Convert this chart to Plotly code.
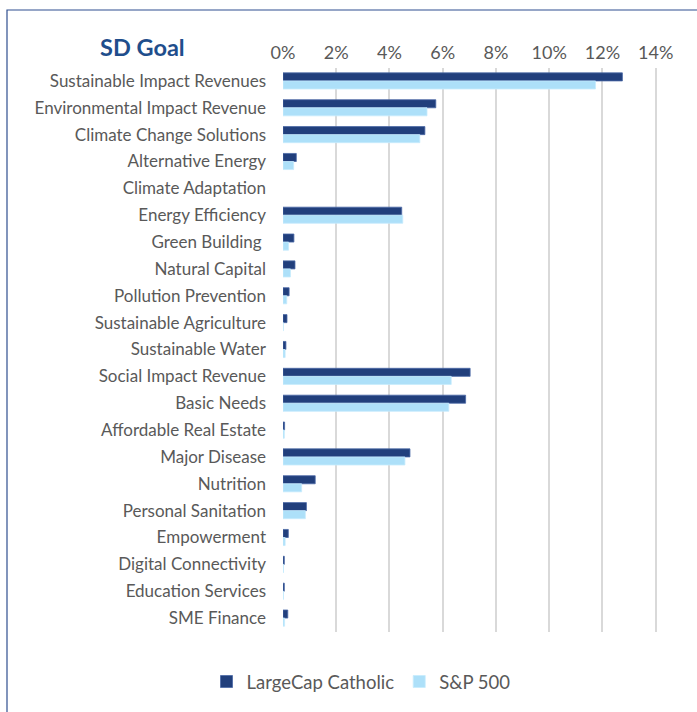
import plotly.graph_objects as go

categories = ["Sustainable Impact Revenues", "Environmental Impact Revenue", "Climate Change Solutions",
              "Alternative Energy", "Climate Adaptation", "Energy Efficiency", "Green Building ",
              "Natural Capital", "Pollution Prevention", "Sustainable Agriculture", "Sustainable Water",
              "Social Impact Revenue", "Basic Needs", "Affordable Real Estate", "Major Disease",
              "Nutrition", "Personal Sanitation", "Empowerment", "Digital Connectivity",
              "Education Services", "SME Finance"]
largecap = [12.75, 5.74, 5.33, 0.50, 0.0, 4.46, 0.41, 0.45, 0.23, 0.15, 0.11,
            7.03, 6.86, 0.06, 4.77, 1.21, 0.88, 0.20, 0.05, 0.05, 0.18]
sp500 = [11.74, 5.41, 5.14, 0.40, 0.0, 4.50, 0.21, 0.28, 0.14, 0.01, 0.08,
         6.32, 6.23, 0.05, 4.58, 0.70, 0.84, 0.08, 0.02, 0.02, 0.06]
tick_vals = [0, 2, 4, 6, 8, 10, 12, 14]
tick_text = ["0%", "2%", "4%", "6%", "8%", "10%", "12%", "14%"]

W, H = 697, 712
font_family = "Lato, 'Open Sans', sans-serif"


def outline_widths(values):
    return [0 if v == 0 else 0.8 for v in values]


fig = go.Figure()
fig.add_trace(go.Bar(y=categories, x=largecap, orientation="h", name="LargeCap Catholic",
                     marker=dict(color="#213F7C",
                                 line=dict(color="#4A68A6", width=outline_widths(largecap)))))
fig.add_trace(go.Bar(y=categories, x=sp500, orientation="h", name="S&P 500",
                     marker=dict(color="#ADE0F9",
                                 line=dict(color="#C6EBFC", width=outline_widths(sp500)))))

fig.update_layout(
    width=W, height=H,
    margin=dict(l=0, r=0, t=0, b=0, autoexpand=False),
    paper_bgcolor="white", plot_bgcolor="white",
    barmode="group", bargap=0.4, bargroupgap=0.0,
    font=dict(family=font_family, color="#595959"),
    xaxis=dict(domain=[283/W, 657/W], range=[0, 14.05], side="top", automargin=False,
               tickvals=tick_vals, ticktext=tick_text, tickfont=dict(size=18, color="#595959"),
               showgrid=True, gridcolor="#D9D9D9", gridwidth=1.5, zeroline=False,
               showline=False, ticks="", ticklabelstandoff=4),
    yaxis=dict(domain=[1 - 631.5/H, 1 - 67.5/H], autorange="reversed", automargin=False,
               tickfont=dict(size=17, color="#595959"), ticks="", showgrid=False,
               showline=False, ticklabelstandoff=16),
    legend=dict(orientation="h", x=361/W, xanchor="center", y=1 - 682/H, yanchor="middle",
                font=dict(size=18.5, color="#595959"), itemwidth=30, traceorder="normal"),
    annotations=[dict(text="<b>SD Goal</b>", x=142/W, y=1 - 47/H, xref="paper", yref="paper",
                      xanchor="center", yanchor="middle", showarrow=False,
                      font=dict(size=23.5, color="#1F4E8C", family=font_family))],
    shapes=[dict(type="rect", xref="paper", yref="paper", x0=7/W, y0=-0.2, x1=1.2, y1=1 - 10/H,
                 line=dict(color="#2F4F8F", width=1.2), fillcolor="rgba(0,0,0,0)", layer="below")],
)

fig.write_html("out.html", config={"displayModeBar": False},
               post_script="document.body.style.margin='0';")
